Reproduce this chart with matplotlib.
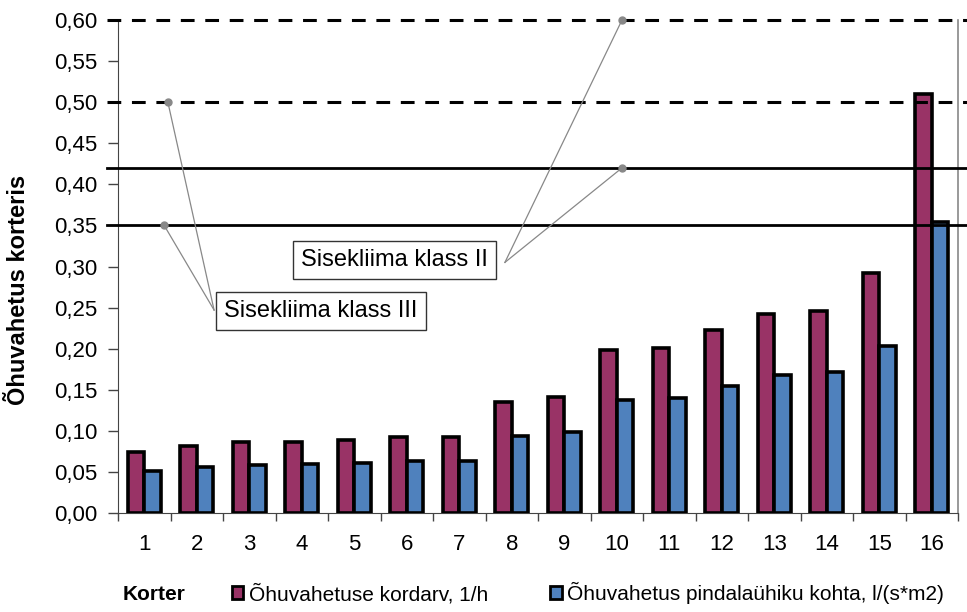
import numpy as np
import matplotlib.pyplot as plt
from matplotlib.patches import Patch
from matplotlib.ticker import FuncFormatter

plt.rcParams['font.family'] = ['Liberation Sans', 'DejaVu Sans']

korter = [str(i) for i in range(1, 17)]
kordarv = [0.074, 0.081, 0.086, 0.087, 0.089, 0.092, 0.092, 0.135,
           0.141, 0.198, 0.201, 0.223, 0.242, 0.246, 0.292, 0.510]
pindala = [0.051, 0.056, 0.058, 0.060, 0.061, 0.063, 0.063, 0.094,
           0.099, 0.138, 0.140, 0.155, 0.168, 0.172, 0.203, 0.354]
piirid_kriips = [0.60, 0.50]
piirid_pidev = [0.42, 0.35]

fig = plt.figure(figsize=(9.67, 6.12), dpi=100)
ax = fig.add_axes([118 / 967, 1 - 513 / 612, (958 - 118) / 967, (513 - 20) / 612])

x = np.arange(1, 17)
w = 0.31
ax.bar(x - w / 2, kordarv, w, color='#993366', edgecolor='black', linewidth=2.6, zorder=3)
ax.bar(x + w / 2, pindala, w, color='#4F81BD', edgecolor='black', linewidth=2.6, zorder=3)

for v in piirid_kriips:
    ax.axhline(v, xmin=-11 / 840, xmax=1 + 9 / 840, color='black', lw=2.2,
               dashes=(4.5, 3.5), clip_on=False, zorder=4)
for v in piirid_pidev:
    ax.axhline(v, xmin=-11 / 840, xmax=1 + 9 / 840, color='black', lw=2.0,
               clip_on=False, zorder=4)

ax.set_xlim(0.5, 16.5)
ax.set_ylim(0, 0.6)
ax.set_yticks(np.arange(0, 0.601, 0.05))
ax.yaxis.set_major_formatter(FuncFormatter(lambda v, p: f'{v:.2f}'.replace('.', ',')))
ax.set_xticks(x)
ax.set_xticklabels(korter)
ax.set_xticks(np.arange(0.5, 16.6, 1), minor=True)
ax.tick_params(axis='x', which='major', length=0, pad=15, labelsize=16)
ax.tick_params(axis='x', which='minor', length=6, width=1, color='#444444')
ax.tick_params(axis='y', length=7, width=1, color='#444444', labelsize=16, pad=8)

ax.spines['top'].set_visible(False)
ax.spines['right'].set_color('#888888')
ax.spines['right'].set_linewidth(1.2)
ax.spines['left'].set_color('#444444')
ax.spines['bottom'].set_color('#444444')

ax.set_ylabel('Õhuvahetus korteris', fontsize=17, fontweight='bold', va='center')
ax.yaxis.set_label_coords(-99 / 840, (513 - 290) / 493)

# annotations
kast = dict(boxstyle='square,pad=0.35', fc='white', ec='#333333', lw=1)
ax.text(2.52, 0.246, 'Sisekliima klass III', fontsize=17, ha='left', va='center',
        bbox=kast, zorder=6)
ax.text(3.99, 0.308, 'Sisekliima klass II', fontsize=17, ha='left', va='center',
        bbox=kast, zorder=6)

for px, py in [(1.45, 0.50), (1.38, 0.35)]:
    ax.plot([2.33, px], [0.247, py], color='#888888', lw=0.9, zorder=5)
    ax.plot(px, py, 'o', color='#888888', ms=5, zorder=5)
for px, py in [(10.1, 0.60), (10.1, 0.42)]:
    ax.plot([7.87, px], [0.305, py], color='#888888', lw=0.9, zorder=5, clip_on=False)
    ax.plot(px, py, 'o', color='#888888', ms=5, zorder=5, clip_on=False)

fig.text(123 / 967, 1 - 594 / 612, 'Korter', fontsize=15, fontweight='bold',
         ha='left', va='center')
handles = [Patch(facecolor='#993366', edgecolor='black', linewidth=2),
           Patch(facecolor='#4F81BD', edgecolor='black', linewidth=2)]
fig.legend(handles, ['Õhuvahetuse kordarv, 1/h', 'Õhuvahetus pindalaühiku kohta, l/(s*m2)'],
           loc='center left', bbox_to_anchor=(232 / 967, 1 - 593 / 612), ncol=2,
           frameon=False, fontsize=15, handlelength=0.55, handleheight=0.55,
           handletextpad=0.25, columnspacing=3.0, borderaxespad=0, borderpad=0)

fig.savefig('out.png', dpi=100)
